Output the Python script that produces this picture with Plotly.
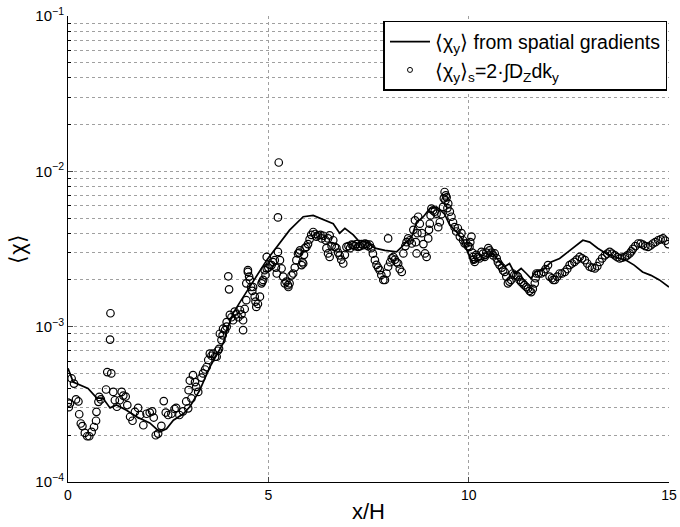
import plotly.graph_objects as go

# ---- data ----
line_x = [0.0, 0.13, 0.5, 0.63, 0.72, 0.87, 1.05, 1.21, 1.46, 1.71, 2.04, 2.29, 2.46, 2.63, 2.88,
          3.04, 3.29, 3.54, 3.87, 4.0, 4.12, 4.3, 4.54, 4.96, 5.53, 5.87, 6.12, 6.37, 6.53, 6.62,
          6.78, 6.91, 7.12, 7.24, 7.45, 7.66, 7.91, 8.2, 8.33, 8.58, 8.70, 8.87, 9.03, 9.2, 9.4,
          9.53, 9.7, 9.86, 9.99, 10.11, 10.23, 10.44, 10.61, 10.77, 10.9, 11.02, 11.15, 11.31,
          11.44, 11.56, 11.65, 11.85, 12.06, 12.27, 12.48, 12.64, 12.85, 13.02, 13.22, 13.43,
          13.68, 13.93, 14.13, 14.34, 14.55, 14.76, 15.0]
line_y = [5.4e-4, 4.4e-4, 4.0e-4, 3.7e-4, 3.47e-4, 3.47e-4, 3.0e-4, 3.13e-4, 2.9e-4, 2.63e-4,
          2.4e-4, 2.1e-4, 2.2e-4, 2.5e-4, 2.75e-4, 3.05e-4, 3.9e-4, 5.5e-4, 7.8e-4, 1.0e-3,
          1.22e-3, 1.45e-3, 1.8e-3, 2.68e-3, 4.18e-3, 5.1e-3, 5.2e-3, 4.9e-3, 4.7e-3, 4.6e-3,
          4.0e-3, 4.3e-3, 3.9e-3, 3.6e-3, 3.5e-3, 3.2e-3, 3.1e-3, 3.03e-3, 3.26e-3, 3.8e-3,
          4.7e-3, 5.1e-3, 5.76e-3, 5.9e-3, 5.3e-3, 4.5e-3, 4.07e-3, 3.6e-3, 2.95e-3, 2.55e-3,
          2.68e-3, 2.75e-3, 2.96e-3, 2.61e-3, 2.43e-3, 2.55e-3, 2.2e-3, 2.37e-3, 2.2e-3, 2.04e-3,
          2.25e-3, 2.31e-3, 2.61e-3, 2.75e-3, 3.03e-3, 3.26e-3, 3.6e-3, 3.5e-3, 3.2e-3, 2.96e-3,
          2.8e-3, 2.68e-3, 2.49e-3, 2.25e-3, 2.14e-3, 2.0e-3, 1.8e-3]

sc_x = [0.0, 0.02, 0.05, 0.09, 0.15, 0.2, 0.26, 0.28, 0.32, 0.36, 0.42, 0.48, 0.53, 0.59, 0.65,
        0.7, 0.71, 0.76, 0.78, 0.82, 0.95, 0.98, 1.05, 1.06, 1.08, 1.13, 1.17, 1.22, 1.29, 1.34,
        1.38, 1.44, 1.48, 1.55, 1.61, 1.67, 1.75, 1.8, 1.88, 1.96, 2.04, 2.1, 2.14, 2.19, 2.25,
        2.33, 2.39, 2.44, 2.5, 2.58, 2.66, 2.7, 2.78, 2.87, 2.95, 3.0, 3.01, 3.04, 3.08, 3.12,
        3.17, 3.2, 3.25, 3.33, 3.46, 3.5, 3.54, 3.62, 3.67, 3.71, 3.77, 3.79, 3.86, 3.87, 3.96,
        3.96, 4.0, 4.02, 4.04, 4.12, 4.2, 4.29, 4.37, 4.37, 4.41, 4.45, 4.45, 4.49, 4.49, 4.54,
        4.57, 4.62, 4.66, 4.7, 4.79, 4.83, 4.87, 4.91, 4.96, 4.96, 5.08, 5.16, 5.21, 5.24, 5.24,
        5.26, 5.29, 5.33, 5.37, 5.41, 5.49, 5.5, 5.58, 5.62, 5.7, 5.74, 5.79, 5.83, 5.87, 5.91,
        5.95, 6.03, 6.12, 6.24, 6.37, 6.49, 6.49, 6.53, 6.53, 6.62, 6.66, 6.7, 6.78, 6.87, 6.95,
        7.08, 7.24, 7.41, 7.53, 7.66, 7.78, 7.87, 7.91, 7.99, 7.99, 8.12, 8.24, 8.33, 8.37, 8.49,
        8.58, 8.66, 8.7, 8.74, 8.83, 8.91, 8.95, 8.99, 9.03, 9.07, 9.2, 9.24, 9.28, 9.36, 9.4,
        9.45, 9.49, 9.57, 9.65, 9.78, 9.82, 9.9, 9.94, 10.02, 10.07, 10.11, 10.15, 10.19, 10.27,
        10.32, 10.4, 10.49, 10.52, 10.61, 10.65, 10.77, 10.9, 10.94, 10.98, 11.06, 11.1, 11.19,
        11.23, 11.31, 11.39, 11.48, 11.56, 11.65, 11.69, 11.81, 11.98, 12.02, 12.15, 12.27, 12.4,
        12.52, 12.64, 12.77, 12.9, 13.02, 13.15, 13.27, 13.4, 13.52, 13.65, 13.77, 13.9, 14.02,
        14.1, 14.23, 14.35, 14.48, 14.6, 14.73, 14.85, 14.98]
sc_y = [3.24e-4, 3.03e-4, 3.2e-4, 4.64e-4, 4.3e-4, 3.4e-4, 3.3e-4, 2.73e-4, 2.38e-4, 2.29e-4,
        2.07e-4, 1.97e-4, 1.97e-4, 2.1e-4, 2.26e-4, 2.48e-4, 2.83e-4, 3.28e-4, 3.53e-4, 3.4e-4,
        3.94e-4, 5.1e-4, 8.26e-4, 1.22e-3, 5.0e-4, 3.8e-4, 3.36e-4, 3.05e-4, 3.36e-4, 3.8e-4,
        3.6e-4, 3.55e-4, 3.13e-4, 2.63e-4, 2.48e-4, 2.83e-4, 3.0e-4, 2.7e-4, 2.32e-4, 2.75e-4,
        2.8e-4, 2.85e-4, 2.6e-4, 2.0e-4, 2.05e-4, 2.3e-4, 3.32e-4, 2.8e-4, 2.7e-4, 2.75e-4,
        2.95e-4, 3.0e-4, 2.7e-4, 2.85e-4, 3.3e-4, 2.98e-4, 3.9e-4, 4.5e-4, 3.45e-4, 4.87e-4,
        4.4e-4, 4.1e-4, 3.8e-4, 4.7e-4, 5.5e-4, 6.1e-4, 6.7e-4, 6.7e-4, 6.4e-4, 6.4e-4,
        7.2e-4, 9.0e-4, 8.8e-4, 9.7e-4, 1.0e-3, 1.07e-3, 2.11e-3, 1.74e-3, 1.19e-3, 1.1e-3,
        1.2e-3, 1.28e-3, 1.1e-3, 9.5e-4, 1.3e-3, 1.48e-3, 1.9e-3, 2.25e-3, 2.31e-3, 2.0e-3,
        1.8e-3, 1.8e-3, 1.56e-3, 1.34e-3, 1.56e-3, 1.9e-3, 2.0e-3, 2.31e-3, 2.37e-3, 2.81e-3,
        2.49e-3, 2.68e-3, 2.2e-3, 3.03e-3, 5.05e-3, 1.14e-2, 2.68e-3, 2.37e-3, 2.1e-3, 1.9e-3,
        1.85e-3, 1.8e-3, 2.14e-3, 2.2e-3, 2.68e-3, 2.96e-3, 3.1e-3, 2.49e-3, 2.55e-3, 3.2e-3,
        3.26e-3, 3.65e-3, 4.07e-3, 3.87e-3, 3.85e-3, 2.96e-3, 3.7e-3, 3.87e-3, 2.81e-3, 3.6e-3,
        3.26e-3, 3.2e-3, 2.88e-3, 2.55e-3, 3.26e-3, 3.37e-3, 3.26e-3, 3.43e-3, 3.37e-3, 2.68e-3,
        2.31e-3, 2.0e-3, 2.0e-3, 2.43e-3, 3.7e-3, 2.81e-3, 2.55e-3, 2.25e-3, 2.96e-3, 3.7e-3,
        3.43e-3, 4.84e-3, 2.96e-3, 5.1e-3, 4.0e-3, 2.96e-3, 2.81e-3, 3.7e-3, 4.6e-3, 5.75e-3,
        5.34e-3, 4.37e-3, 4.7e-3, 5.9e-3, 7.36e-3, 6.8e-3, 6.2e-3, 5.1e-3, 4.37e-3, 3.8e-3,
        4.0e-3, 3.43e-3, 3.43e-3, 3.26e-3, 3.8e-3, 2.81e-3, 2.61e-3, 2.9e-3, 2.75e-3, 3.03e-3,
        2.81e-3, 3.2e-3, 3.1e-3, 2.88e-3, 2.96e-3, 2.5e-3, 2.25e-3, 2.1e-3, 1.9e-3, 2.0e-3,
        2.2e-3, 2.14e-3, 2.1e-3, 1.94e-3, 1.85e-3, 1.76e-3, 1.67e-3, 1.9e-3, 2.2e-3, 2.2e-3,
        2.49e-3, 2.1e-3, 2.0e-3, 2.2e-3, 2.25e-3, 2.49e-3, 2.61e-3, 2.81e-3, 2.68e-3, 2.43e-3,
        2.37e-3, 2.61e-3, 2.88e-3, 3.03e-3, 2.88e-3, 2.75e-3, 2.81e-3, 2.96e-3, 3.17e-3, 3.43e-3,
        3.37e-3, 3.26e-3, 3.43e-3, 3.6e-3, 3.7e-3, 3.4e-3]

# additional circles read in the dense parts of the cloud
sc_extra_x = [3.37, 3.42, 3.58, 3.74, 3.83, 3.92, 4.08, 4.16, 4.25, 4.33, 4.52, 4.6, 4.68, 4.74,
              4.85, 4.93, 5.0, 5.04, 5.12, 5.19,
              5.45, 5.53, 5.66, 5.77, 5.85, 5.89, 5.99, 6.07, 6.17, 6.2, 6.3, 6.33, 6.43, 6.45,
              6.58, 6.74, 6.82, 6.91, 7.0, 7.04, 7.12, 7.16, 7.2, 7.29, 7.33, 7.37, 7.45, 7.49,
              7.57, 7.61, 7.7, 7.74, 7.82, 7.95, 8.04, 8.08, 8.16, 8.2, 8.28, 8.42, 8.45, 8.53,
              8.62, 8.68, 8.72, 8.78, 8.87, 9.01, 9.05, 9.11, 9.15, 9.32, 9.38, 9.42, 9.43, 9.47,
              9.53, 9.61, 9.69, 9.73, 9.86, 9.98, 10.04, 10.09, 10.13, 10.23, 10.36, 10.44, 10.57,
              10.7, 10.73, 10.83, 10.86, 11.02, 11.14, 11.27, 11.35, 11.44, 11.52, 11.6, 11.67,
              11.75, 11.87, 11.92, 12.08, 12.11, 12.21, 12.33, 12.46, 12.58, 12.7, 12.83, 12.96,
              13.08, 13.21, 13.33, 13.46, 13.58, 13.71, 13.83, 13.96, 14.06, 14.16, 14.29, 14.41,
              14.54, 14.66, 14.79, 14.91]
sc_extra_y = [5.0e-4, 5.3e-4, 6.5e-4, 7.0e-4, 8.2e-4, 9.5e-4, 1.15e-3, 1.25e-3, 1.15e-3, 1.2e-3,
              2.1e-3, 1.7e-3, 1.45e-3, 1.4e-3, 1.95e-3, 2.15e-3, 2.4e-3, 2.5e-3, 2.6e-3, 2.4e-3,
              1.95e-3, 1.9e-3, 2.4e-3, 3.0e-3, 2.6e-3, 2.9e-3, 3.4e-3, 3.9e-3, 3.95e-3, 3.8e-3,
              3.9e-3, 3.7e-3, 3.6e-3, 3.2e-3, 3.3e-3, 3.0e-3, 2.7e-3, 2.9e-3, 3.3e-3, 3.2e-3,
              3.35e-3, 3.3e-3, 3.4e-3, 3.3e-3, 3.4e-3, 3.35e-3, 3.4e-3, 3.3e-3, 3.2e-3, 2.95e-3,
              2.5e-3, 2.4e-3, 2.15e-3, 2.2e-3, 2.6e-3, 2.75e-3, 2.7e-3, 2.6e-3, 2.35e-3, 3.3e-3,
              3.5e-3, 3.6e-3, 4.2e-3, 3.5e-3, 4.0e-3, 4.6e-3, 3.4e-3, 4.2e-3, 5.2e-3, 5.6e-3,
              5.5e-3, 5.3e-3, 6.7e-3, 6.5e-3, 7.0e-3, 5.8e-3, 5.5e-3, 4.7e-3, 4.1e-3, 4.3e-3,
              3.6e-3, 3.3e-3, 3.5e-3, 3.0e-3, 2.7e-3, 2.8e-3, 2.95e-3, 3.0e-3, 3.0e-3, 2.75e-3,
              2.6e-3, 2.4e-3, 2.3e-3, 1.95e-3, 2.15e-3, 2.0e-3, 1.9e-3, 1.8e-3, 1.7e-3, 1.75e-3,
              2.05e-3, 2.2e-3, 2.25e-3, 2.35e-3, 2.05e-3, 2.0e-3, 2.1e-3, 2.2e-3, 2.35e-3, 2.55e-3,
              2.7e-3, 2.75e-3, 2.55e-3, 2.4e-3, 2.45e-3, 2.75e-3, 2.95e-3, 2.95e-3, 2.8e-3,
              2.78e-3, 2.88e-3, 3.05e-3, 3.3e-3, 3.42e-3, 3.3e-3, 3.33e-3, 3.5e-3, 3.65e-3, 3.58e-3]

y_major = [1e-4, 1e-3, 1e-2, 1e-1]
y_major_text = ["10<sup>\u22124</sup>", "10<sup>\u22123</sup>", "10<sup>\u22122</sup>", "10<sup>\u22121</sup>"]
y_minor = [m * d for d in (1e-4, 1e-3, 1e-2) for m in range(2, 10)]
x_ticks = [0, 5, 10, 15]

legend_line = "\u27e8\u03c7<sub>y</sub>\u27e9 from spatial gradients"
legend_sc = "\u27e8\u03c7<sub>y</sub>\u27e9<sub>s</sub>=2\u00b7\u222bD<sub>Z</sub>dk<sub>y</sub>"

fig = go.Figure()
fig.add_trace(go.Scatter(x=line_x, y=line_y, mode="lines", showlegend=False,
                         line=dict(color="black", width=1.7)))
fig.add_trace(go.Scatter(x=sc_x + sc_extra_x, y=sc_y + sc_extra_y, mode="markers", showlegend=False,
                         marker=dict(symbol="circle-open", size=7.5, color="black",
                                     line=dict(width=1.2, color="black"))))
# legend entries (no data; same styles, smaller legend marker as in the reference)
fig.add_trace(go.Scatter(x=[None], y=[None], mode="lines", name=legend_line,
                         line=dict(color="black", width=1.7)))
fig.add_trace(go.Scatter(x=[None], y=[None], mode="markers", name=legend_sc,
                         marker=dict(symbol="circle-open", size=5, color="black",
                                     line=dict(width=1, color="black"))))

font = "Liberation Sans, Arial, Helvetica, sans-serif"
fig.update_layout(
    width=680, height=527,
    margin=dict(l=68, r=11, t=16, b=45),
    paper_bgcolor="white", plot_bgcolor="white",
    font=dict(family=font, size=14, color="black"),
    showlegend=True,
    legend=dict(x=0.9975, y=0.9895, xanchor="right", yanchor="top",
                bgcolor="white", bordercolor="black", borderwidth=1.5,
                font=dict(size=19.5), tracegroupgap=0, itemwidth=40),
    xaxis=dict(range=[0, 15], tickvals=x_ticks, ticks="inside", ticklen=5, automargin=False,
               showline=True, linecolor="black", linewidth=1, mirror=False,
               showgrid=True, gridcolor="#a0a0a0", griddash="dot", gridwidth=1,
               zeroline=False, tickfont=dict(size=14),
               title=dict(text="x/H", font=dict(size=22), standoff=1)),
    yaxis=dict(type="log", range=[-4, -1], tickvals=y_major, ticktext=y_major_text,
               ticks="inside", ticklen=5, automargin=False,
               showline=True, linecolor="black", linewidth=1,
               showgrid=True, gridcolor="#a0a0a0", griddash="dot", gridwidth=1,
               zeroline=False, tickfont=dict(size=15),
               minor=dict(tickvals=y_minor, ticks="inside", ticklen=3, tickcolor="black",
                          showgrid=True, gridcolor="#a0a0a0", griddash="dot", gridwidth=1),
               title=dict(text="\u27e8\u03c7\u27e9", font=dict(size=22), standoff=3)),
)

fig.write_html("out.html")
